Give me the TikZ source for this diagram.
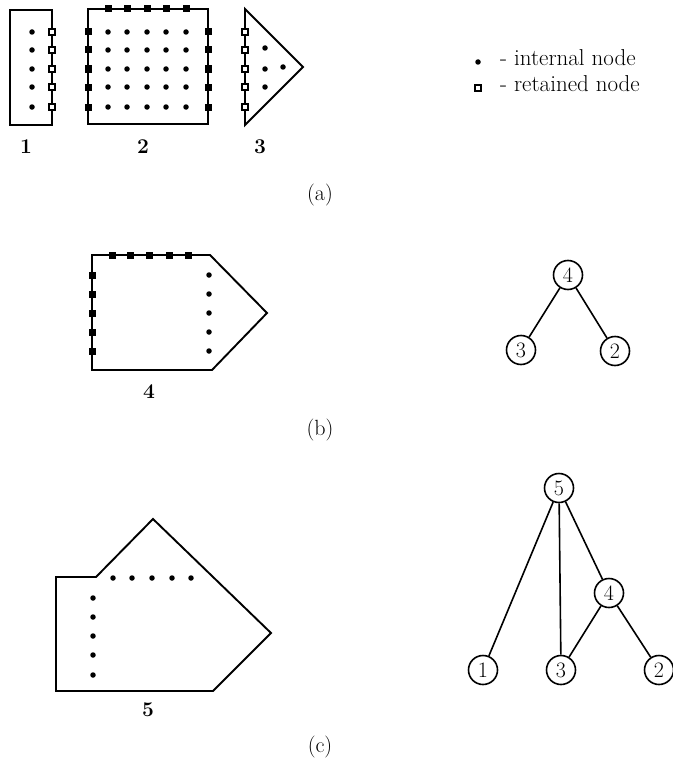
\documentclass[tikz,border=0pt]{standalone}
\begin{document}
\begin{tikzpicture}[x=1pt,y=-1pt,
  edge/.style={line width=1.9pt,line join=miter},
  idot/.style={circle,fill=black,inner sep=0pt,minimum size=5.5pt},
  rsq/.style={rectangle,draw=black,fill=black,line width=1pt,inner sep=0pt,minimum size=6pt},
  rsqo/.style={rectangle,draw=black,fill=white,line width=1.5pt,inner sep=0pt,minimum size=6pt},
  lab/.style={font=\fontsize{21}{24}\selectfont\bfseries},
  captxt/.style={font=\fontsize{22}{26}\selectfont},
  legtxt/.style={font=\fontsize{23}{26}\selectfont,inner sep=0pt,anchor=base west},
  tnode/.style={circle,draw=black,line width=1.6pt,minimum size=29pt,inner sep=0pt,fill=white,font=\fontsize{22}{24}\selectfont},
  tedge/.style={line width=1.6pt}]
\useasboundingbox (0,0) rectangle (672,768);
% ---------- (a) ----------
\draw[edge] (10,10) rectangle (52,125);
\foreach \y in {32,50,69,87,107}{
  \node[idot] at (32,\y) {};
  \node[rsqo] at (52,\y) {};
}
\draw[edge] (88,9) rectangle (208,124);
\foreach \x in {108,127,147,166,186}{
  \node[rsq] at (\x,9) {};
  \foreach \y in {32,50,69,87,107}{ \node[idot] at (\x,\y) {}; }
}
\foreach \y in {32,50,69,87,107}{
  \node[rsq] at (88,\y) {};
  \node[rsq] at (208,\y) {};
}
\draw[edge] (245,9) -- (303,67) -- (245,125) -- cycle;
\foreach \y in {32,50,69,87,107}{ \node[rsqo] at (245,\y) {}; }
\node[idot] at (265,48) {};
\node[idot] at (265,69) {};
\node[idot] at (265,87) {};
\node[idot] at (283,67) {};
\node[lab] (l1) at (26,147) {1};
\node[lab] (l2) at (143,147) {2};
\node[lab] (l3) at (260,147) {3};
\node[idot] (ld) at (478,62) {};
\node[legtxt] (lt1) at (500,66) {- internal node};
\node[rsqo] (ls) at (478,88) {};
\node[legtxt] (lt2) at (500,92) {- retained node};
\node[captxt] (ca) at (320,195) {(a)};
% ---------- (b) ----------
\draw[edge] (92,255) -- (210,255) -- (267,313) -- (212,370) -- (92,370) -- cycle;
\foreach \x in {112,130,149,169,188}{ \node[rsq] at (\x,255) {}; }
\foreach \y in {275,294,313,332,351}{
  \node[rsq] at (92,\y) {};
  \node[idot] at (209,\y) {};
}
\node[lab] (l4) at (149,392) {4};
\node[captxt] (cb) at (320,430) {(b)};
\node[tnode] (b4) at (568,275) {4};
\node[tnode] (b3) at (521,350) {3};
\node[tnode] (b2) at (615,351) {2};
\draw[tedge] (b4) -- (b3);
\draw[tedge] (b4) -- (b2);
% ---------- (c) ----------
\draw[edge] (56,577) -- (96,577) -- (153,519) -- (271,633) -- (213,691) -- (56,691) -- cycle;
\foreach \x in {113,132,152,172,191}{ \node[idot] at (\x,578) {}; }
\foreach \y in {598,617,636,655,675}{ \node[idot] at (93,\y) {}; }
\node[lab] (l5) at (148,710) {5};
\node[captxt] (cc) at (320,747) {(c)};
\node[tnode] (c5) at (559,488) {5};
\node[tnode] (c4) at (609,593) {4};
\node[tnode] (c1) at (483,670) {1};
\node[tnode] (c3) at (561,670) {3};
\node[tnode] (c2) at (659,670) {2};
\draw[tedge] (c5) -- (c1);
\draw[tedge] (c5) -- (c3);
\draw[tedge] (c5) -- (c4);
\draw[tedge] (c4) -- (c3);
\draw[tedge] (c4) -- (c2);
\end{tikzpicture}
\end{document}
